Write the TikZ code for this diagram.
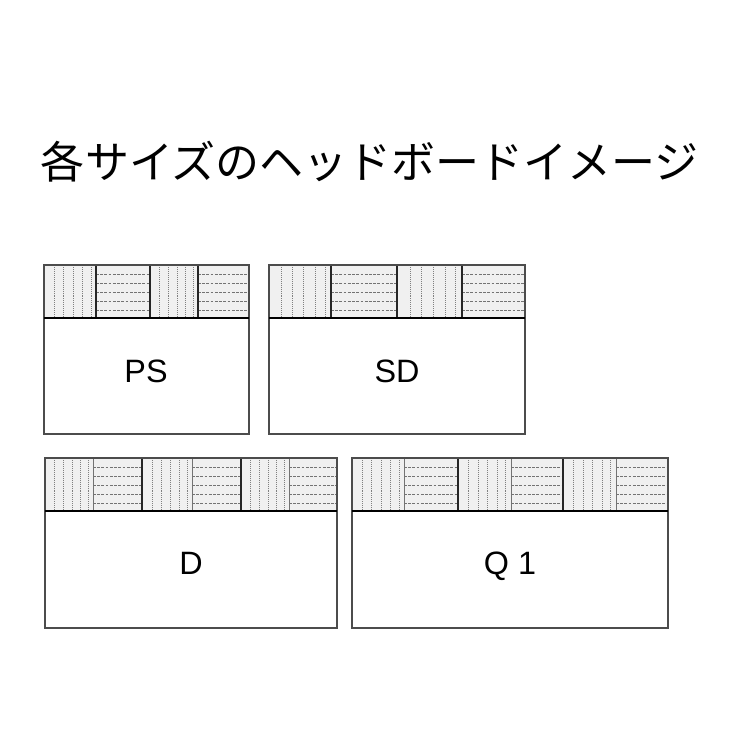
\documentclass[tikz,border=0pt]{standalone}
\usepackage{fontspec}
\setsansfont{Liberation Sans}
\newfontfamily\jpfont{Noto Sans CJK JP}
\tikzset{
  board/.style={fill=black!6},
  edge/.style={draw=black!70,line width=0.8pt},
  split/.style={draw=black,line width=1.1pt},
  joint/.style={draw=black!85,line width=1pt},
  seam/.style={draw=black!55,line width=0.6pt},
  vline/.style={draw=black!50,line width=0.4pt,densely dotted},
  hline/.style={draw=black!55,line width=0.4pt,dash pattern=on 2pt off 1pt},
  sizelabel/.style={anchor=base,font=\sffamily\fontsize{23}{26}\selectfont},
  heading/.style={font=\jpfont\fontsize{31.3}{38}\selectfont}
}
% one panel of vertical or horizontal stripes: left, right, top
\newcommand{\vpanel}[3]{\foreach \f in {.2,.38,.56,.74,.9}
  \draw[vline] ({#1+\f*(#2-#1)},#3) -- ++(0,53);}
\newcommand{\hpanel}[3]{\foreach \f in {.17,.34,.51,.68,.85}
  \draw[hline] (#1,{#3+\f*53}) -- (#2,{#3+\f*53});}
\begin{document}
\begin{tikzpicture}[x=0.025cm,y=-0.025cm]
\useasboundingbox (0,0) rectangle (740,740);
\node[heading] (title) at (370,162) {各サイズのヘッドボードイメージ};

% PS
\fill[board] (44,265) rectangle (249,318);
\vpanel{44}{96}{265} \hpanel{96}{150}{265} \vpanel{150}{198}{265} \hpanel{198}{249}{265}
\foreach \x in {96,150,198} \draw[joint] (\x,265) -- (\x,318);
\draw[edge] (44,265) rectangle (249,434);
\draw[split] (44,318) -- (249,318);
\node[sizelabel] (ps) at (146,382) {PS};

% SD
\fill[board] (269,265) rectangle (525,318);
\vpanel{269}{331}{265} \hpanel{331}{397}{265} \vpanel{397}{462}{265} \hpanel{462}{525}{265}
\foreach \x in {331,397,462} \draw[joint] (\x,265) -- (\x,318);
\draw[edge] (269,265) rectangle (525,434);
\draw[split] (269,318) -- (525,318);
\node[sizelabel] (sd) at (397,382) {SD};

% D
\fill[board] (45,458) rectangle (337,511);
\vpanel{45}{93}{458} \hpanel{93}{142}{458} \vpanel{142}{192}{458}
\hpanel{192}{241}{458} \vpanel{241}{289}{458} \hpanel{289}{337}{458}
\foreach \x in {93,192,289} \draw[seam] (\x,458) -- (\x,511);
\foreach \x in {142,241} \draw[joint] (\x,458) -- (\x,511);
\draw[edge] (45,458) rectangle (337,628);
\draw[split] (45,511) -- (337,511);
\node[sizelabel] (d) at (191,574) {D};

% Q1
\fill[board] (352,458) rectangle (668,511);
\vpanel{352}{404}{458} \hpanel{404}{458}{458} \vpanel{458}{511}{458}
\hpanel{511}{563}{458} \vpanel{563}{616}{458} \hpanel{616}{668}{458}
\foreach \x in {404,511,616} \draw[seam] (\x,458) -- (\x,511);
\foreach \x in {458,563} \draw[joint] (\x,458) -- (\x,511);
\draw[edge] (352,458) rectangle (668,628);
\draw[split] (352,511) -- (668,511);
\node[sizelabel] (q1) at (510,574) {Q 1};
\end{tikzpicture}
\end{document}
